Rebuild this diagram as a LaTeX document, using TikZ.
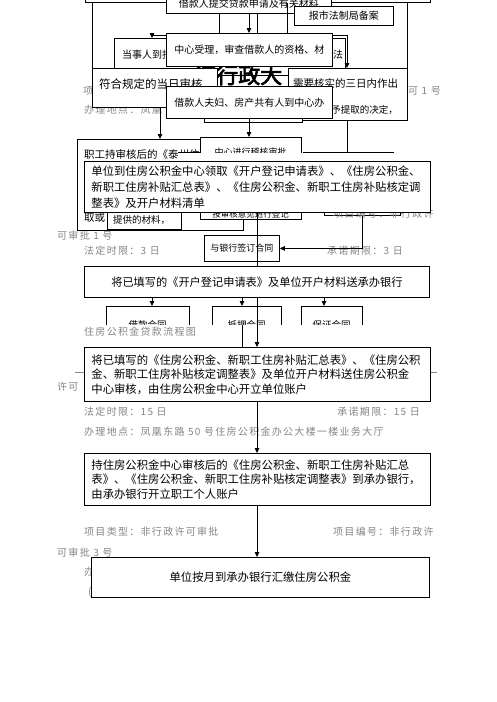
\documentclass[tikz,border=0pt]{standalone}
\usepackage{fontspec}
\setmainfont{Noto Sans CJK SC}
\newfontfamily\bgfont[LetterSpace=13]{Noto Sans CJK SC}
\newfontfamily\bigfont[FakeBold=3]{Noto Sans CJK SC}
\usetikzlibrary{arrows.meta}
\tikzset{
  box/.style={draw=black, fill=white, line width=0.8pt, inner sep=0pt, anchor=north west},
  t10/.style={font=\fontsize{10}{12}\selectfont},
  t9/.style={font=\fontsize{9}{11}\selectfont},
  bigL/.style={font=\fontsize{11.35}{16}\selectfont, text width=332pt, align=left},
  bigQ/.style={font=\fontsize{11.35}{14.6}\selectfont, text width=332pt, align=left},
  lbl/.style={inner sep=0pt, anchor=west},
  gry/.style={inner sep=0pt, anchor=west, text=black!48, font=\bgfont\fontsize{10}{12}\selectfont},
  conn/.style={line width=0.8pt},
  arr/.style={line width=0.8pt, -{Triangle[length=5pt,width=4.5pt]}},
}
\begin{document}
\begin{tikzpicture}[x=1pt,y=-1pt]
\useasboundingbox (0,0) rectangle (496,702);
\fill[white] (0,0) rectangle (496,702);
% column coordinates
\coordinate (c92) at (92,0);
\coordinate (c152) at (152,0);
\coordinate (c160) at (160,0);
\coordinate (c219) at (219,0);
\coordinate (c242) at (242,0);
\coordinate (c249) at (249,0);
\coordinate (c257) at (257,0);
\coordinate (c287) at (287,0);
\coordinate (c324) at (324,0);
\coordinate (c347) at (347,0);
\coordinate (c362) at (362,0);
\coordinate (c407) at (407,0);
\coordinate (h35) at (0,35);
\coordinate (dtop) at (0,33);
\coordinate (ctop) at (0,38);
\coordinate (etop) at (0,68);
\coordinate (pc) at (0,324.5);

% ---------- top region ----------
\node[gry] (g1) at (83,91) {项};
\node[gry, anchor=east] (g2) at (441,91) {可 1 号};
\node[gry] (g3) at (84,110) {办理地点：凤凰};

\node[box, minimum width=345, minimum height=22] (T0) at (85,-20) {};
\draw[conn] (T0.south -| c92) -- (etop -| c92);
\draw[conn] (T0.south -| c407) -- (etop -| c407);

\node[box, t10, minimum width=165, minimum height=19] (A) at (166,-6) {借款人提交贷款申请及有关材料};
\node[box, t10, minimum width=99, minimum height=19] (B) at (294,6) {报市法制局备案};

\draw[conn] (A.south -| c219) -- (dtop -| c219);
\draw[conn] (A.south -| c257) -- (dtop -| c257);
\draw[conn] (T0.south -| c287) -- (dtop -| c287);
\draw[arr] (A.south -| c249) -- (dtop -| c249);

\node[box, minimum width=231, minimum height=37] (C) at (114,38) {};
\node[lbl, t10] (ct1) at (122,55) {当事人到指};
\node[lbl, t10] (ct2) at (333,55) {法};

\draw[arr] (h35 -| c249) -| (ctop -| c152);
\draw[arr] (h35 -| c249) -| (etop -| c347);

\node[lbl, font=\bigfont\fontsize{22}{24}\selectfont] (BG) at (194,75) {证行政大};

\node[box, t10, minimum width=166, minimum height=33] (D) at (166,33) {中心受理，审查借款人的资格、材};

\node[box, minimum width=125, minimum height=39] (E) at (92,68) {};
\node[lbl, font=\fontsize{11.5}{13}\selectfont] (et) at (99,84) {符合规定的当日审核};

\node[box, minimum width=119, minimum height=52] (F) at (288,68) {};
\node[lbl, font=\fontsize{10.5}{12}\selectfont] (ft1) at (293,83) {需要核实的三日内作出};
\node[lbl, anchor=east, font=\fontsize{9.5}{11}\selectfont] (ft2) at (398,110) {予提取的决定，};

\node[box, minimum width=98, minimum height=22] (H) at (204,100) {};
\node[box, t10, minimum width=166, minimum height=32] (G) at (166,86) {借款人夫妇、房产共有人到中心办};

% ---------- middle region ----------
\node[gry] (g4) at (57,236) {可审批 1 号};

\node[box, minimum width=166, minimum height=91] (I) at (77,139) {};
\node[lbl, font=\fontsize{10.5}{12}\selectfont] (it1) at (84,154) {职工持审核后的《泰州住房公积金};
\node[lbl, font=\fontsize{10.5}{12}\selectfont] (it2) at (84,218) {取或};

\node[box, minimum width=101, minimum height=82] (J) at (200,137) {};
\node[t9, inner sep=0pt] (jt1) at (250.5,152) {中心进行稽核审批};
\node[font=\fontsize{8.5}{10}\selectfont, inner sep=0pt] (jt2) at (250.5,214) {按审核意见进行登记};

\node[box, minimum width=90, minimum height=33] (K1) at (303,152) {};
\node[box, minimum width=76, minimum height=25] (K2) at (324,190) {};
\node[gry] (g5) at (333,214) {项目编号：非行政许};

\fill[white] (178,152.5) rectangle (429,161);
\coordinate (cv1) at (178,152.5);
\coordinate (cv2) at (200,152.5);
\draw[conn] (cv1) -- (cv2);

\node[box, minimum width=74, minimum height=29] (M) at (107,200) {};
\node[lbl, font=\fontsize{9.5}{11}\selectfont] (mt) at (113,220) {提供的材料，};

\node[box, bigL, minimum width=346, minimum height=51] (L) at (84,161) {单位到住房公积金中心领取《开户登记申请表》、《住房公积金、\\新职工住房补贴汇总表》、《住房公积金、新职工住房补贴核定调\\整表》及开户材料清单};

\draw[arr] (E.south -| c160) -- (I.north -| c160);
\draw[arr] (G.south -| c249) -- (J.north -| c249);
\draw[conn] (F.south -| c347) -- (K1.north -| c347);

\node[gry] (g6) at (84,251) {法定时限：3 日};
\node[gry] (g7) at (327,251) {承诺期限：3 日};

\node[box, t9, minimum width=75, minimum height=26] (N) at (204,235) {与银行签订合同};
\node[box, font=\fontsize{11.2}{13}\selectfont, minimum width=345, minimum height=31] (O) at (84,266) {将已填写的《开户登记申请表》及单位开户材料送承办银行};

\draw[conn] (L.south -| c257) -- (O.north -| c257);
\draw[arr] (K2.south -| c362) |- (N.east);

\begin{scope}
\clip (0,300) rectangle (496,324.5);
\node[box, minimum width=83, minimum height=40] (P1) at (106,306) {};
\node[box, minimum width=69, minimum height=40] (P2) at (212,306) {};
\node[box, minimum width=61, minimum height=40] (P3) at (301,306) {};
\node[font=\fontsize{9.5}{11}\selectfont, inner sep=0pt] (p1t) at (147.5,324.5) {借款合同};
\node[font=\fontsize{9.5}{11}\selectfont, inner sep=0pt] (p2t) at (246.5,324.5) {抵押合同};
\node[font=\fontsize{9.5}{11}\selectfont, inner sep=0pt] (p3t) at (331.5,324.5) {保证合同};
\end{scope}

\draw[arr] (O.south -| c152) -- (P1.north -| c152);
\draw[arr] (O.south -| c242) -- (P2.north -| c242);
\draw[arr] (O.south -| c324) -- (P3.north -| c324);

\node[gry] (g8) at (84,332) {住房公积金贷款流程图};

% ---------- lower region ----------
\coordinate (gl1) at (75,372);
\coordinate (gl2) at (437,372);
\draw[black!45, line width=0.6pt] (gl1) -- (gl2);
\node[gry] (g9) at (57,387) {许可};

\node[box, bigQ, minimum width=346, minimum height=54] (Q) at (84,347) {将已填写的《住房公积金、新职工住房补贴汇总表》、《住房公积\\金、新职工住房补贴核定调整表》及单位开户材料送住房公积金\\中心审核，由住房公积金中心开立单位账户};

\draw[arr] (O.south -| c257) -- (Q.north -| c257);
\draw[conn] (pc -| c242) -- (Q.north -| c242);

\node[gry] (g10) at (84,412) {法定时限：15 日};
\node[gry, anchor=east] (g11) at (420,412) {承诺期限：15 日};
\node[gry] (g12) at (84,432) {办理地点：凤凰东路 50 号住房公积金办公大楼一楼业务大厅};

\node[box, bigQ, minimum width=346, minimum height=52] (R) at (84,453) {持住房公积金中心审核后的《住房公积金、新职工住房补贴汇总\\表》、《住房公积金、新职工住房补贴核定调整表》到承办银行，\\由承办银行开立职工个人账户};
\draw[arr] (Q.south -| c257) -- (R.north -| c257);

\node[gry] (g13) at (84,532) {项目类型：非行政许可审批};
\node[gry] (g14) at (333,532) {项目编号：非行政许};
\node[gry] (g15) at (57,553) {可审批 3 号};
\node[gry] (g16) at (84,572) {办};
\node[gry] (g17) at (88,592) {(};

\node[box, font=\fontsize{11.35}{13}\selectfont, minimum width=338, minimum height=40] (S) at (91,557) {单位按月到承办银行汇缴住房公积金};
\draw[arr] (R.south -| c257) -- (S.north -| c257);
\end{tikzpicture}
\end{document}
